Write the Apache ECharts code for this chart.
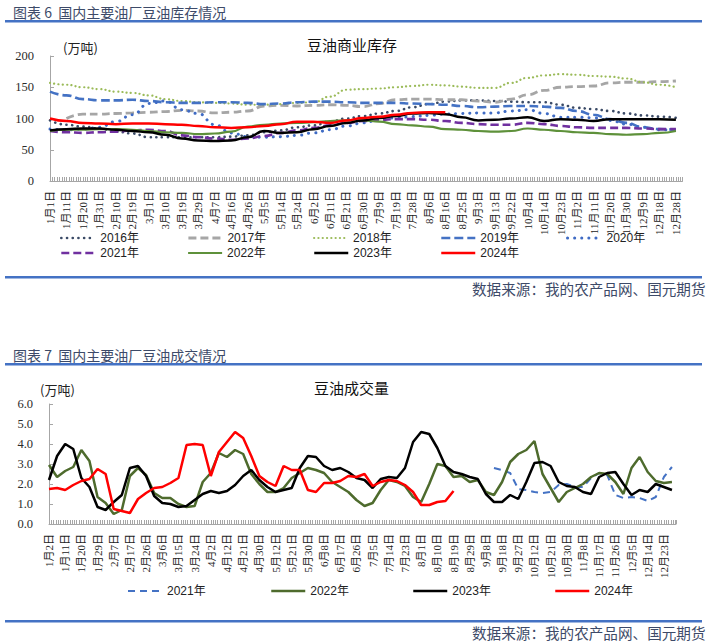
<!DOCTYPE html>
<html><head><meta charset="utf-8">
<script src="https://cdn.jsdelivr.net/npm/echarts@6/dist/echarts.min.js"></script>
<style>html,body{margin:0;padding:0;background:#fff}#c{width:714px;height:644px}</style>
</head><body><div id="c"></div>
<script>
// ---------- Chart 1: 豆油商业库存 (万吨), one value per x-label ----------
const labels1 = ['1月1日','1月11日','1月20日','1月31日','2月10日','2月19日','3月1日','3月10日','3月19日','3月29日','4月7日','4月16日','4月26日','5月5日','5月14日','5月24日','6月2日','6月11日','6月21日','6月30日','7月9日','7月19日','7月28日','8月6日','8月16日','8月25日','9月3日','9月13日','9月22日','10月4日','10月14日','10月23日','11月2日','11月11日','11月20日','11月30日','12月9日','12月18日','12月28日'];
const inv2016 = [97,90,87,84,79,76,70,70,70,70,70,71,73,78,81,86,89,95,100,104,108,112,118,123,127,129,129,128,127,126,126,122,117,115,112,108,105,103,101];
const inv2017 = [null,100,107,107,108,109,110,111,113,112,109,110,112,120,121,120,121,122,121,119,124,130,131,131,130,130,128,126,131,138,145,150,151,152,157,158,158,159,160];
const inv2018 = [157,154,150,147,143,141,137,131,128,126,125,124,122,122,123,125,126,135,146,147,148,150,152,154,153,151,149,149,157,165,169,171,170,168,167,164,158,154,150];
const inv2019 = [143,137,131,129,129,130,128,126,125,125,126,126,125,123,124,126,127,127,126,125,125,125,124,123,122,120,118,119,120,120,119,117,112,106,99,93,86,83,82];
const inv2020 = [83,82,83,86,95,106,124,128,114,108,90,77,71,70,71,73,77,82,88,93,98,101,103,105,107,108,109,109,112,114,108,102,102,101,97,91,86,82,81];
const inv2021 = [80,78,77,78,79,81,82,80,73,70,68,66,68,72,77,81,85,89,93,96,98,99,99,98,96,93,91,90,90,93,91,88,86,85,85,85,84,83,83];
const inv2022 = [80,82,82,83,83,82,80,78,77,75,76,79,87,90,92,93,94,96,97,97,95,91,89,87,83,82,80,79,80,84,82,80,78,77,75,74,75,77,80];
const inv2023 = [81,83,84,84,82,80,78,74,68,65,64,65,70,80,77,78,83,88,93,97,101,104,108,109,107,102,97,98,100,102,96,99,98,96,99,99,99,99,98];
const inv2024 = [100,96,93,92,91,92,92,91,90,88,86,85,86,88,91,95,95,93,97,101,103,106,109,110,110];

// ---------- Chart 2: 豆油成交量 (万吨), two values per x-label ----------
const labels2 = ['1月2日','1月11日','1月20日','1月29日','2月7日','2月17日','2月26日','3月6日','3月15日','3月24日','4月2日','4月12日','4月21日','4月30日','5月12日','5月21日','5月30日','6月8日','6月17日','6月26日','7月5日','7月14日','7月23日','8月1日','8月10日','8月19日','8月29日','9月8日','9月18日','9月27日','10月12日','10月21日','10月30日','11月8日','11月17日','11月26日','12月5日','12月14日','12月23日'];
const deal2021 = [null,null,null,null,null,null,null,null,null,null,null,null,null,null,null,null,null,null,null,null,null,null,null,null,null,null,null,null,null,null,null,null,null,null,null,null,null,null,null,null,null,null,null,null,null,null,null,null,null,null,null,null,null,null,null,2.8,2.7,2.55,1.75,1.7,1.6,1.55,1.6,1.95,2.0,1.85,1.85,2.3,2.55,2.45,1.45,1.3,1.35,1.3,1.15,1.35,2.35,2.85];
const deal2022 = [2.95,2.35,2.65,2.85,3.7,3.15,1.35,1.05,0.5,0.7,2.4,2.8,2.45,1.55,1.3,1.3,1.0,0.85,0.9,2.1,2.55,3.55,3.35,3.7,3.5,2.5,2.0,1.6,1.6,1.8,2.3,2.55,2.8,2.7,2.55,2.1,1.85,1.6,1.2,0.9,1.05,1.7,2.2,2.1,1.9,1.35,1.1,2.0,3.0,2.9,2.35,2.4,2.1,2.2,1.6,1.45,2.1,3.1,3.5,3.7,4.15,2.5,1.8,1.1,1.6,1.8,2.0,2.35,2.55,2.5,2.1,1.5,2.8,3.35,2.6,2.15,2.05,2.1];
const deal2023 = [2.2,3.4,4.0,3.75,2.3,1.85,0.85,0.7,1.1,1.45,2.8,2.9,2.4,1.4,1.05,1.0,0.85,0.9,1.2,1.5,1.65,1.55,1.65,1.95,2.4,2.7,2.2,1.85,1.6,1.7,1.8,2.8,3.4,3.35,2.9,2.7,2.8,2.6,2.3,2.2,1.8,2.25,2.35,2.3,2.8,4.1,4.6,4.5,3.8,2.9,2.6,2.5,2.35,2.25,1.5,1.1,1.1,1.45,1.25,2.1,3.05,3.1,2.9,2.1,1.9,1.85,1.6,1.5,2.35,2.55,2.6,2.0,1.45,1.7,1.6,2.0,1.85,1.7];
const deal2024 = [1.75,1.8,1.7,1.95,2.15,2.25,2.75,2.5,0.75,0.65,0.55,1.25,1.55,1.8,1.85,2.05,2.3,3.95,4.0,3.95,2.4,3.6,4.1,4.6,4.3,3.4,2.4,2.1,1.9,2.9,2.7,2.7,1.7,1.6,2.05,2.05,2.15,2.4,2.35,2.5,1.9,2.1,2.2,2.15,1.95,1.6,0.95,0.95,1.1,1.15,1.65];

const SERIF = '"Liberation Serif","DejaVu Serif","Noto Sans CJK SC",serif';
const SANS = '"Liberation Sans","Noto Sans CJK SC",sans-serif';
const CJK = '"Noto Sans CJK SC",sans-serif';
const HEAD = '#3d4a68';
const AX = '#A6A6A6';

function pts(arr, step){ const out=[]; arr.forEach((v,i)=>{ if(v!==null) out.push([i*step, v]); }); return out; }

function xAxis(gi, labels, max){
  return {type:'value', gridIndex:gi, min:0, max:max, interval:1,
    axisLine:{show:true, lineStyle:{color:AX, width:1}},
    axisTick:{show:true, inside:true, length:4, lineStyle:{color:AX}},
    minorTick:{show:true, splitNumber:7, length:4, lineStyle:{color:AX}},
    splitLine:{show:false}, minorSplitLine:{show:false},
    axisLabel:{rotate:90, margin:10, fontSize:11, color:'#222', fontFamily:SERIF,
      formatter:(v)=> Number.isInteger(v) && labels[v] ? labels[v] : '' , showMinLabel:true, showMaxLabel:true}};
}
function yAxis(gi, max, interval, fmt, margin){
  return {type:'value', gridIndex:gi, min:0, max:max, interval:interval,
    axisLine:{show:true, lineStyle:{color:AX}},
    axisTick:{show:true, inside:true, length:4, lineStyle:{color:AX}},
    splitLine:{show:false},
    axisLabel:{margin:margin, fontSize:12.5, color:'#2b2b2b', fontFamily:SERIF, formatter:fmt}};
}
function line(name, xi, data, step, color, width, type, smooth){
  return {name:name, type:'line', xAxisIndex:xi, yAxisIndex:xi, data:pts(data, step),
    showSymbol:false, symbol:'none', smooth:smooth, smoothMonotone:'x',
    lineStyle:{color:color, width:width, type:type, cap: Array.isArray(type) && type[0] < 1 ? 'round' : 'butt'},
    itemStyle:{color:color}, emphasis:{disabled:true}, z:3};
}

const series = [
  line('2016年',0,inv2016,1,'#3A4A66',2.6,[0.1,5.6],true),
  line('2017年',0,inv2017,1,'#A6A6A6',2.8,[8,4],true),
  line('2018年',0,inv2018,1,'#9BBB59',2.2,[0.1,4.2],true),
  line('2019年',0,inv2019,1,'#4472C4',2.6,[9,4],true),
  line('2020年',0,inv2020,1,'#3F6BC4',3,[0.1,7],true),
  line('2021年',0,inv2021,1,'#7030A0',2.6,[8,4],true),
  line('2022年',0,inv2022,1,'#5E913A',2.2,'solid',true),
  line('2023年',0,inv2023,1,'#000000',2.5,'solid',true),
  line('2024年',0,inv2024,1,'#FF0000',2.5,'solid',true),
  line('成交2021年',1,deal2021,0.5,'#4472C4',2,[7,5],false),
  line('成交2022年',1,deal2022,0.5,'#4E6B2D',2.5,'solid',false),
  line('成交2023年',1,deal2023,0.5,'#000000',2.5,'solid',false),
  line('成交2024年',1,deal2024,0.5,'#FF0000',2.5,'solid',false)
];

const legendPos = [
  ['2016年',60,232],['2017年',187,232],['2018年',313,232],['2019年',440,232],['2020年',566,232],
  ['2021年',60,247],['2022年',187,247],['2023年',313,247],['2024年',440,247],
  ['成交2021年',127,585],['成交2022年',270,585],['成交2023年',412,585],['成交2024年',554,585]
];
const legends = legendPos.map(p=>({data:[p[0]], left:p[1], top:p[2], padding:0, itemWidth:34, itemHeight:10,
  selectedMode:false, lineStyle:{width:'inherit'}, itemStyle:{opacity:0, borderWidth:0},
  formatter:(n)=> n.replace('成交',''),
  textStyle:{fontSize:12, color:'#222', fontFamily:SANS}}));

function t(text, left, top, size, color, family){
  return {text:text, left:left, top:top, padding:0, textStyle:{fontSize:size, color:color, fontFamily:family, fontWeight:'normal'}};
}

const option = {
  animation:false,
  title:[
    t('图表 6  国内主要油厂豆油库存情况',13,5,14,HEAD,CJK),
    t('豆油商业库存',307,37,15,'#111',CJK),
    t('(万吨)',63,41,13,'#222',CJK),
    t('数据来源：我的农产品网、国元期货',472,281,14.6,HEAD,CJK),
    t('图表 7  国内主要油厂豆油成交情况',13,348,14,HEAD,CJK),
    t('豆油成交量',314,380,15,'#111',CJK),
    t('(万吨)',40,383,13,'#222',CJK),
    t('数据来源：我的农产品网、国元期货',472,625,14.6,HEAD,CJK)
  ],
  graphic:[
    {type:'rect', shape:{x:5,y:20,width:697,height:2.5}, style:{fill:'#4472C4'}},
    {type:'rect', shape:{x:5,y:276,width:697,height:2.5}, style:{fill:'#4472C4'}},
    {type:'rect', shape:{x:5,y:363,width:697,height:2.5}, style:{fill:'#4472C4'}},
    {type:'rect', shape:{x:5,y:620,width:697,height:2.5}, style:{fill:'#4472C4'}}
  ],
  legend: legends,
  grid:[
    {left:50, top:56, width:632.5, height:125, containLabel:false},
    {left:49, top:404, width:627, height:120, containLabel:false}
  ],
  xAxis:[ xAxis(0, labels1, 38.4), xAxis(1, labels2, 38.75) ],
  yAxis:[ yAxis(0, 200, 50, (v)=>String(v), 16), yAxis(1, 6, 1, (v)=>v.toFixed(1), 16) ],
  series: series
};
const chart = echarts.init(document.getElementById('c'), null, {renderer:'svg', width:714, height:644});
chart.setOption(option);
</script></body></html>
